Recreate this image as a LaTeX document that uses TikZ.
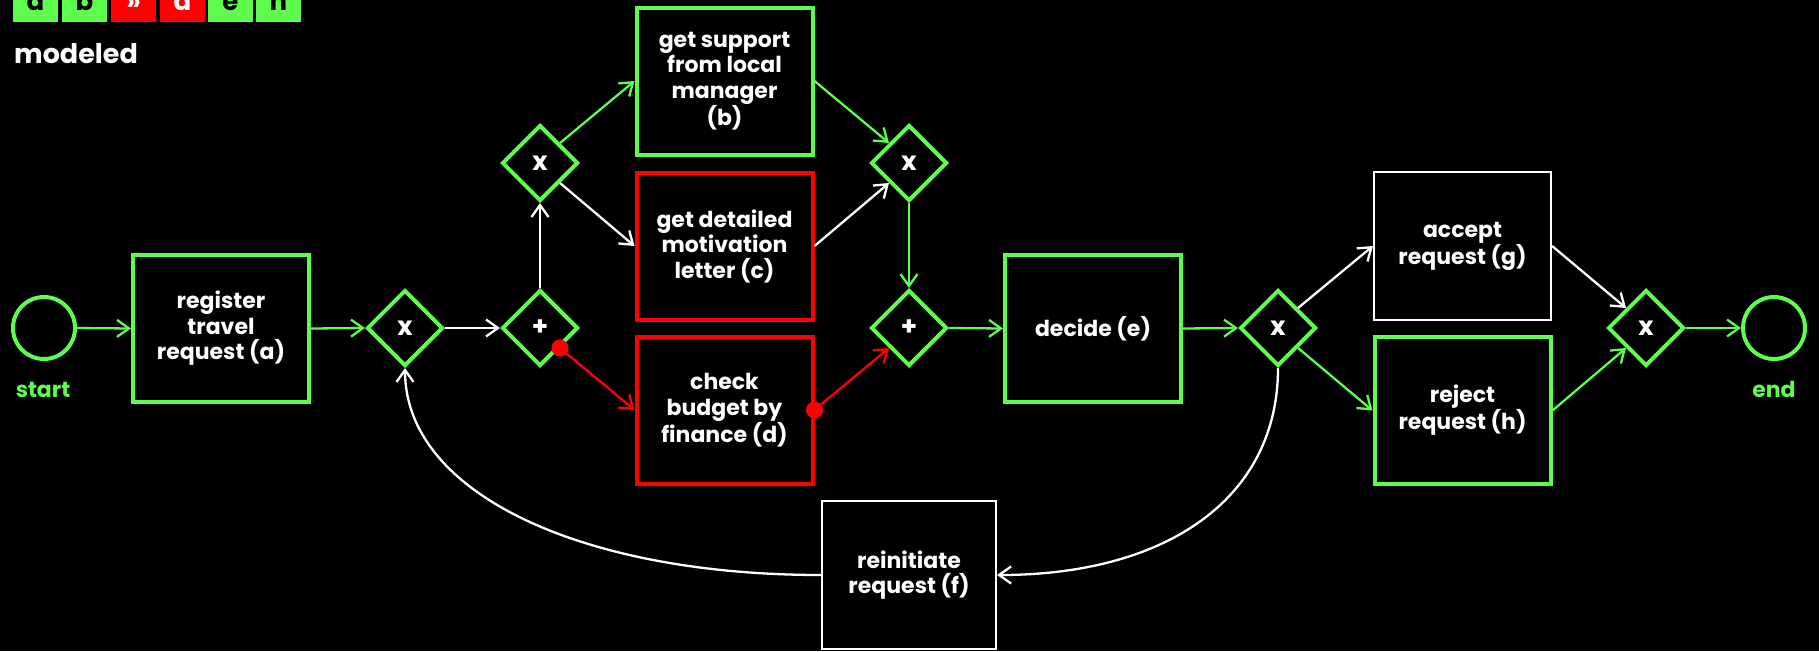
\documentclass[tikz,border=0pt]{standalone}
\usepackage{fontspec}
\setmainfont{Poppins}
\usetikzlibrary{shapes.geometric,arrows.meta}

\definecolor{okgreen}{RGB}{94,252,76}
\definecolor{badred}{RGB}{255,0,0}

\tikzset{
  boxfont/.style={font=\fontsize{22}{25.5}\selectfont\bfseries},
  task/.style={rectangle, boxfont, text=white, align=center, inner sep=0pt,
    line width=4pt, minimum width=176pt, minimum height=147pt},
  greentask/.style={task, draw=okgreen},
  redtask/.style={task, draw=badred},
  whitetask/.style={task, draw=white, line width=2.2pt, minimum width=177pt, minimum height=148pt},
  gateway/.style={diamond, draw=okgreen, line width=4pt, minimum size=76pt,
    inner sep=0pt, text=white, font=\fontsize{26}{26}\selectfont\bfseries},
  event/.style={circle, draw=okgreen, line width=4pt, minimum size=62pt, inner sep=0pt},
  evlabel/.style={boxfont, text=okgreen, inner sep=0pt},
  flow/.style={line width=2.3pt, -{Straight Barb[length=12pt,width=17pt]}},
  gflow/.style={flow, okgreen},
  wflow/.style={flow, white},
  rflow/.style={flow, badred},
  tracebox/.style={rectangle, minimum width=45pt, minimum height=44pt, inner sep=0pt,
    font=\fontsize{26}{26}\selectfont\bfseries, text height=20pt, text depth=0pt},
  okbox/.style={tracebox, fill=okgreen, text=black},
  badbox/.style={tracebox, fill=badred, text=white},
}

\begin{document}
\begin{tikzpicture}[x=1pt, y=-1pt]
  % canvas
  \fill[black] (0,0) rectangle (1819,651);
  \useasboundingbox (0,0) rectangle (1819,651);

  % trace strip and caption
  \node[okbox]  (s1) at (35.5,0)  {a};
  \node[okbox]  (s2) at (84.5,0)  {b};
  \node[badbox] (s3) at (133.5,0) {»};
  \node[badbox] (s4) at (182.5,0) {d};
  \node[okbox]  (s5) at (230.5,0) {e};
  \node[okbox]  (s6) at (278.5,0) {h};
  \node[anchor=base west, inner sep=0pt, text=white,
        font=\fontsize{27}{27}\selectfont\bfseries] (cap) at (14,63) {modeled};

  % events
  \node[event] (start) at (44,328) {};
  \node[evlabel] (startlbl) at (43,390) {start};
  \node[event] (end) at (1774,328) {};
  \node[evlabel] (endlbl) at (1774,389) {end};

  % tasks
  \node[greentask] (a) at (221,328.5) {register\\travel\\request (a)};
  \node[greentask] (b) at (724.5,81) {get support\\from local\\manager\\(b)};
  \node[redtask]   (c) at (724.5,246) {get detailed\\motivation\\letter (c)};
  \node[redtask]   (d) at (724.5,410) {check\\budget by\\finance (d)};
  \node[greentask] (e) at (1093,328.5) {decide (e)};
  \node[whitetask, minimum width=174pt] (f) at (909,575) {reinitiate\\request (f)};
  \node[whitetask] (g) at (1462.5,246) {accept\\request (g)};
  \node[greentask] (h) at (1462.5,410.5) {reject\\request (h)};

  % gateways
  \node[gateway] (x1) at (405,328) {x};
  \node[gateway] (p1) at (540,328) {+};
  \node[gateway] (x2) at (540,163) {x};
  \node[gateway] (x3) at (909,163) {x};
  \node[gateway] (p2) at (909,328) {+};
  \node[gateway] (x4) at (1278,328) {x};
  \node[gateway] (x5) at (1646,328) {x};

  % sequence flows
  \draw[gflow] (start.east) -- (a.west);
  \draw[gflow] (a.east) -- (x1.west);
  \draw[wflow] (x1.east) -- (p1.west);
  \draw[wflow] (p1.north) -- (x2.south);
  \draw[gflow] (x2.north east) -- (b.west);
  \draw[wflow] (x2.south east) -- (c.west);
  \draw[rflow] (p1.south east) -- (d.west);
  \draw[gflow] (b.east) -- (x3.north west);
  \draw[wflow] (c.east) -- (x3.south west);
  \draw[rflow] (d.east) -- (p2.south west);
  \draw[gflow] (x3.south) -- (p2.north);
  \draw[gflow] (p2.east) -- (e.west);
  \draw[gflow] (e.east) -- (x4.west);
  \draw[wflow] (x4.north east) -- (g.west);
  \draw[gflow] (x4.south east) -- (h.west);
  \draw[wflow] (g.east) -- (x5.north west);
  \draw[gflow] (h.east) -- (x5.south west);
  \draw[gflow] (x5.east) -- (end.west);

  % loop back through the reinitiation task
  \draw[wflow] (x4.south) .. controls +(0,130) and +(170,0) .. (f.east);
  \draw[wflow] (f.west) .. controls +(-240,0) and +(0,125) .. (x1.south);

  % deviation markers
  \fill[badred] (p1.south east) circle (8.5pt);
  \fill[badred] (d.east) circle (8.5pt);
\end{tikzpicture}
\end{document}
